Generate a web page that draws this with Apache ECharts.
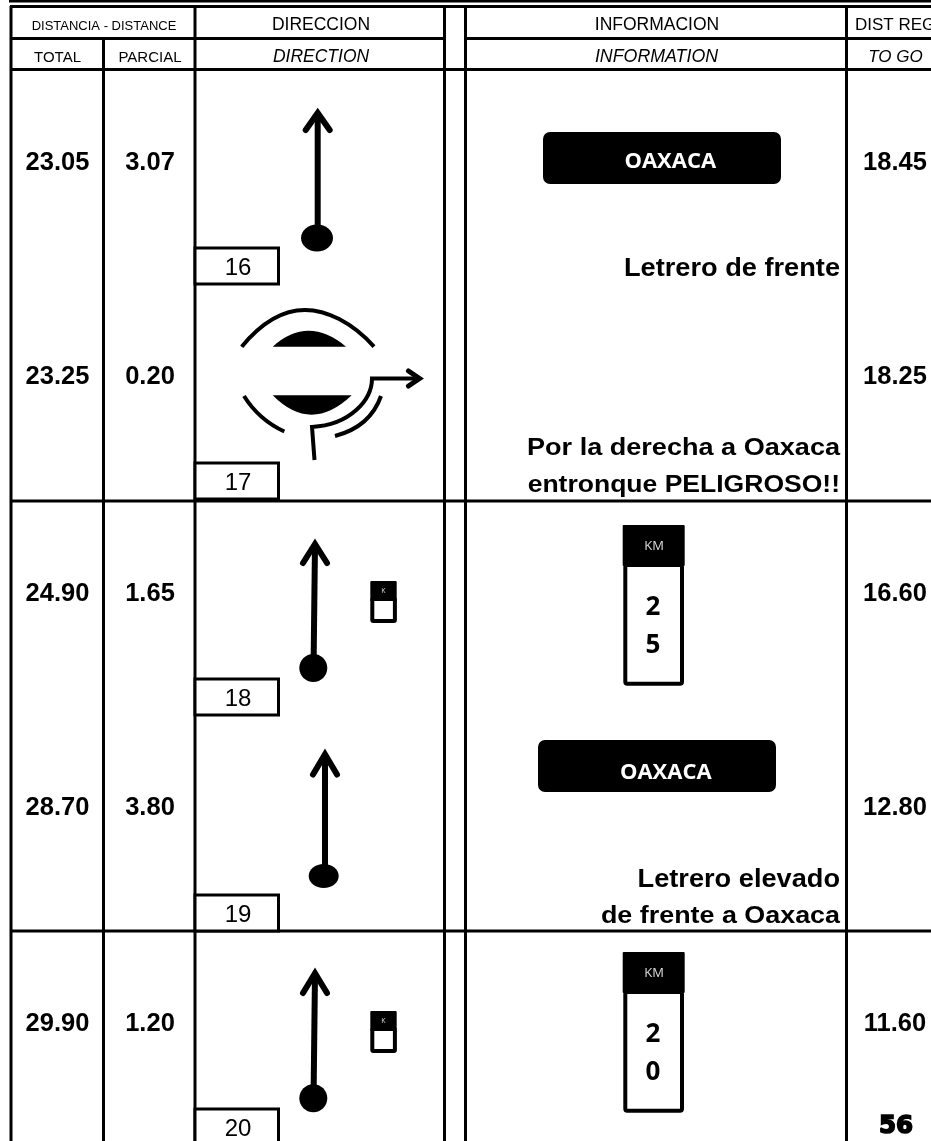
<!DOCTYPE html>
<html><head><meta charset="utf-8">
<style>html,body{margin:0;padding:0;background:#fff}#c{width:931px;height:1141px}</style>
<script src="https://cdn.jsdelivr.net/npm/echarts@6/dist/echarts.min.js"></script>
</head><body><div id="c"></div>
<script>
const totals = ['23.05','23.25','24.90','28.70','29.90'];
const partials = ['3.07','0.20','1.65','3.80','1.20'];
const toGo = ['18.45','18.25','16.60','12.80','11.60'];
const steps = ['16','17','18','19','20'];
const signNames = ['OAXACA','OAXACA'];
const kmSigns = [['2','5'],['2','0']];
const notes = [['Letrero de frente'],['Por la derecha a Oaxaca','entronque PELIGROSO!!'],['Letrero elevado','de frente a Oaxaca']];
const heads = {distance:'DISTANCIA - DISTANCE',dir:'DIRECCION',info:'INFORMACION',reg:'DIST REG',total:'TOTAL',partial:'PARCIAL',dirEn:'DIRECTION',infoEn:'INFORMATION',togo:'TO GO'};
const pageNumber = '56';

const ARIAL='"Liberation Sans",Arial,sans-serif', SIGN='"Open Sans",sans-serif';
const rowY=[163,377,593.5,808,1023.5];
const boxY=[248,463,679,895,1109];
const els=[];
let pid=0;
const line=(x1,y1,x2,y2,w=3)=>els.push({type:'line',shape:{x1,y1,x2,y2},style:{stroke:'#000',lineWidth:w}});
const text=(t,x,y,font,size,o={})=>els.push({type:'text',x,y,z:5,scaleX:o.sx||1,style:{text:t,font:`${o.italic?'italic ':''}${o.bold?'bold ':''}${size}px ${font}`,fill:o.fill||'#000',align:o.align||'center',verticalAlign:'middle',stroke:o.stroke,lineWidth:o.sw||0}});
const path=(d,o={})=>{const name='resketchPath'+(pid++);
  echarts.graphic.registerShape(name,echarts.graphic.extendPath(d));
  els.push({type:name,z:o.z||3,style:{fill:o.fill||'none',stroke:o.stroke===undefined?'#000':o.stroke,lineWidth:o.w||4,lineCap:o.cap||'butt',lineJoin:o.join||'miter'}});};
const rect=(x,y,w,h,o={})=>els.push({type:'rect',shape:{x,y,width:w,height:h,r:o.r||0},z:o.z||2,style:{fill:o.fill||'#000',stroke:o.stroke||'none',lineWidth:o.lw||0}});
const ell=(cx,cy,rx,ry)=>els.push({type:'ellipse',z:3,shape:{cx,cy,rx,ry},style:{fill:'#000'}});

// frame
rect(9,0,922,2.5);
rect(10,5,921,3);
[11,103.5,195,444.5,465.5,846.5].forEach((x,i)=>{line(x,i==1?38:6,x,1141);});
line(10,38.5,445,38.5);line(465,38.5,931,38.5);
line(10,69.5,931,69.5);
line(10,501,931,501);line(10,931,931,931);

// headers
text(heads.distance,104,26,ARIAL,13);
text(heads.dir,321,25,ARIAL,17.5);
text(heads.info,657,25,ARIAL,17.5);
text(heads.reg,855,25,ARIAL,17,{align:'left'});
text(heads.total,57.5,58,ARIAL,15);
text(heads.partial,150,58,ARIAL,15);
text(heads.dirEn,321,57,ARIAL,17.5,{italic:true});
text(heads.infoEn,656.5,57,ARIAL,17.8,{italic:true});
text(heads.togo,895.5,57,ARIAL,17,{italic:true});

// rows
totals.forEach((t,i)=>{
  text(t,57.5,rowY[i],ARIAL,25.5,{bold:true});
  text(partials[i],150,rowY[i],ARIAL,25.5,{bold:true});
  text(toGo[i],895,rowY[i],ARIAL,25.5,{bold:true});
  rect(195,boxY[i],83.5,36,{fill:'#fff',stroke:'#000',lw:3});
  text(steps[i],238,boxY[i]+20,ARIAL,24);
});

// arrows
const arrow=(tx,ty,bx,by,wy,wd,cx,cy,rx,ry)=>{
  path(`M${bx} ${by}L${tx} ${ty+6}`,{w:6});
  path(`M${tx-wd} ${wy}L${tx} ${ty+6}L${tx+wd} ${wy}`,{w:6,cap:'round'});
  ell(cx,cy,rx,ry);
};
arrow(317.7,107,317.7,232,130,12,317,238,16,13.5);
arrow(315,538,313.7,655,563,12,313.3,668,14,14);
arrow(325,748.3,325,865,774.5,12,323.7,876,15,12);
arrow(315,967.3,313.7,1085,993,12,313.3,1098.3,14,14);

// roundabout
path('M241.7 346.7C262 322 284 310 305 310C326 310 352 322 374 346.7',{w:4});
path('M272.7 346.7Q308 315 346 346.7Z',{fill:'#000',stroke:'none'});
path('M272.7 395.3Q311 434 351.7 395.3Z',{fill:'#000',stroke:'none'});
path('M244 396C254 412 268 424 284.3 431.5',{w:4});
path('M314.5 460L312 427C350 425 372 400 372 378.5L418 378.5',{w:4});
path('M408.5 371L419.5 378.5L408.5 386',{w:5,cap:'round'});
path('M381 396C374 416 358 430 335 436',{w:4});

// signs
const sign=(x,y,t,tx,ty)=>{rect(x,y,238,52,{r:7});text(t,tx,ty,SIGN,22,{bold:true,fill:'#fff'});};
sign(543,132,signNames[0],670.3,162);
sign(538,740,signNames[1],665.8,773);
const km=(y,vals)=>{
  rect(622.7,y,62,41,{r:1});
  rect(625.3,y+40,56.7,118.7,{r:2,fill:'#fff',stroke:'#000',lw:4,z:1});
  text('KM',654,y+21,SIGN,13,{fill:'#ddd'});
  text(vals[0],653,y+83,SIGN,26,{bold:true});
  text(vals[1],653,y+120.5,SIGN,26,{bold:true});
};
km(525,kmSigns[0]);km(952,kmSigns[1]);
const miniKm=(y)=>{
  rect(370.3,y,26.4,20,{r:1});
  rect(372.3,y+18,22.6,22,{r:1,fill:'#fff',stroke:'#000',lw:4,z:1});
  text('K',383.5,y+10,SIGN,7,{fill:'#ddd'});
};
miniKm(581);miniKm(1011);

// notes
const note=(t,y,size,sx)=>text(t,840,y,ARIAL,size,{bold:true,align:'right',sx});
note(notes[0][0],269,25.5,1.066);
note(notes[1][0],448,24,1.128);
note(notes[1][1],485,24,1.105);
note(notes[2][0],879.5,25.5,1.066);
note(notes[2][1],916.5,24,1.12);

text(pageNumber,896,1127,'"DejaVu Sans",sans-serif',24.5,{bold:true,stroke:'#000',sw:1.6});

const chart=echarts.init(document.getElementById('c'),null,{renderer:'canvas'});
chart.setOption({animation:false,backgroundColor:'#fff',graphic:{elements:els}});
</script></body></html>
